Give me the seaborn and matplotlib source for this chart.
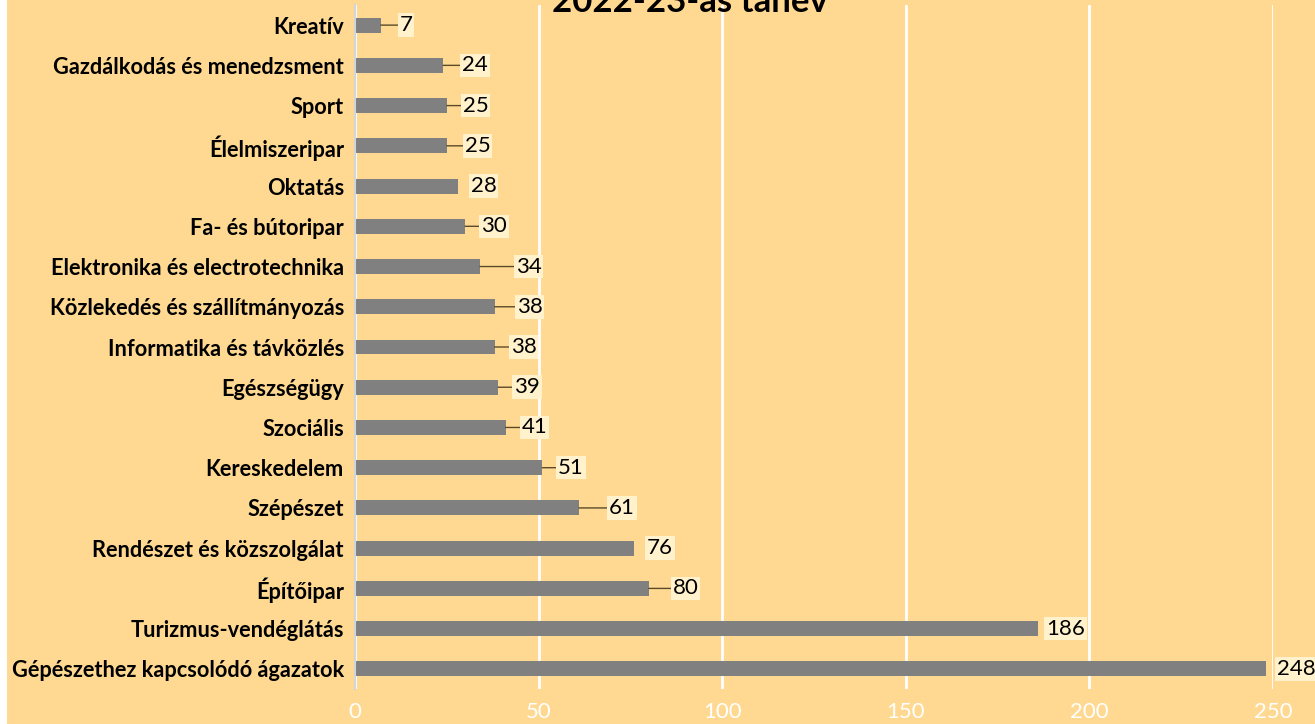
import matplotlib
matplotlib.use('Agg')
import matplotlib.pyplot as plt
import seaborn as sns
import pandas as pd
from matplotlib.patches import Rectangle

# chart data, top to bottom as shown
categories = [
    'Kreatív',
    'Gazdálkodás és menedzsment',
    'Sport',
    'Élelmiszeripar',
    'Oktatás',
    'Fa- és bútoripar',
    'Elektronika és electrotechnika',
    'Közlekedés és szállítmányozás',
    'Informatika és távközlés',
    'Egészségügy',
    'Szociális',
    'Kereskedelem',
    'Szépészet',
    'Rendészet és közszolgálat',
    'Építőipar',
    'Turizmus-vendéglátás',
    'Gépészethez kapcsolódó ágazatok',
]
counts = [7, 24, 25, 25, 28, 30, 34, 38, 38, 39, 41, 51, 61, 76, 80, 186, 248]
x_ticks = [0, 50, 100, 150, 200, 250]
title = '2022-23-as tanév'

# label offsets from bar end, in pixels (leader line drawn when large)
label_gap_px = [19, 19, 16, 18, 13, 16, 36, 22, 16, 16, 16, 16, 30, 13, 24, 8, 11]

BG = '#FFD991'
BAR = '#808080'
BOX = '#FFF2CC'

sns.set_theme(style='white')
plt.rcParams['font.family'] = ['Lato', 'DejaVu Sans']

df = pd.DataFrame({'ágazat': categories, 'létszám': counts})

fig = plt.figure(figsize=(13.15, 7.24), dpi=100, facecolor=BG)
fig.patches.append(Rectangle((0, 0), 7 / 1315, 1, transform=fig.transFigure,
                             facecolor='white', edgecolor='none', zorder=0))
ax = fig.add_axes([355 / 1315, 1 - 689 / 724, (1273 - 355) / 1315, 684 / 724])
ax.set_facecolor(BG)

sns.barplot(data=df, y='ágazat', x='létszám', color=BAR, width=0.37,
            saturation=1, orient='h', ax=ax, zorder=3, linewidth=0)

ax.set_xlim(0, 250)
ax.set_ylim(len(categories) - 0.5, -0.5)
ax.set_xticks(x_ticks)
ax.set_xlabel('')
ax.set_ylabel('')
ax.grid(axis='x', color='white', linewidth=2, zorder=0)
ax.grid(axis='y', visible=False)
for side in ['top', 'right', 'bottom']:
    ax.spines[side].set_visible(False)
ax.spines['left'].set_color('#D0D4DC')
ax.spines['left'].set_linewidth(1.5)
ax.spines['left'].set_zorder(4)

ax.tick_params(axis='x', length=0, pad=9, labelsize=16, labelcolor='white')
ax.tick_params(axis='y', length=0, pad=8)
for lab in ax.get_yticklabels():
    lab.set_fontweight('bold')
    lab.set_fontsize(15.7)
    lab.set_color('black')

# data labels with leader lines
px_to_pt = 72 / fig.dpi
for i, (v, gap) in enumerate(zip(counts, label_gap_px)):
    off = gap * px_to_pt
    ax.annotate(str(v), xy=(v, i), xytext=(off, 0), textcoords='offset points',
                ha='left', va='center', fontsize=16, color='black', zorder=6,
                bbox=dict(boxstyle='square,pad=0.08', facecolor=BOX, edgecolor='none'),
                annotation_clip=False)
    if gap > 14:
        ax.annotate('', xy=(v, i), xytext=(off, 0), textcoords='offset points',
                    arrowprops=dict(arrowstyle='-', color='#5A4A2A', lw=1.0,
                                    shrinkA=0, shrinkB=0),
                    zorder=5, annotation_clip=False)

fig.text(690 / 1315, 1 - 12 / 724, title, ha='center', va='baseline',
         fontsize=25, fontweight='bold', color='black')

fig.savefig('out.png', dpi=100, facecolor=BG)
